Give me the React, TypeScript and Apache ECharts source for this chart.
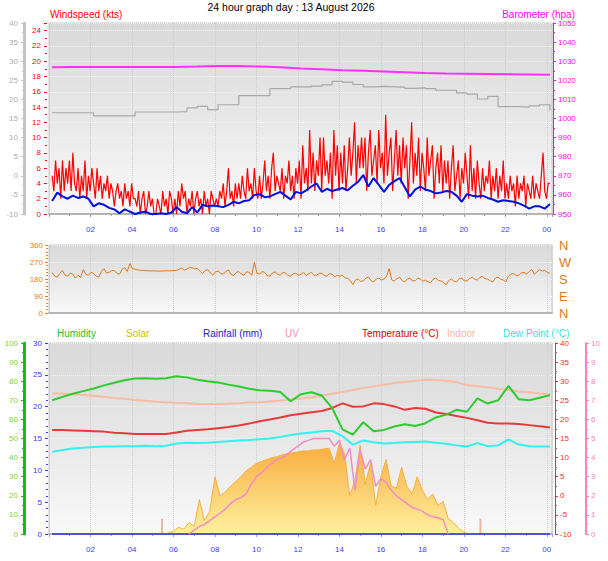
import React, { useEffect, useRef } from "react";
import * as echarts from "echarts";

const FONT = "Liberation Sans, Arial, sans-serif";

// times are hours after midnight of the first day; the axis runs 00:00 -> 00:15 next day
const TIME_MAX = 24.25;

// ---- top panel: wind (kts), barometer (hpa), grey trace (left grey scale)
const gustStart = 0.15;
const gustStep = 1 / 12;
const windGust = [
  5, 3, 7, 4, 6, 2, 7, 3, 6, 4, 7, 3,
  8, 4, 3, 6, 2, 5, 3, 7, 2, 5, 3, 6,
  4, 2, 6, 3, 5, 2, 4, 3, 5, 2, 4, 3,
  1, 3, 4, 2, 3, 1, 4, 2, 3, 1, 4, 2,
  2, 1, 3, 0, 2, 3, 0, 1, 3, 1, 2, 0,
  0, 2, 1, 0, 3, 1, 2, 0, 3, 2, 0, 2,
  0, 3, 1, 4, 2, 3, 0, 2, 1, 3, 0, 2,
  3, 1, 2, 0, 3, 1, 2, 0, 3, 2, 1, 2,
  1, 3, 2, 4, 1, 3, 6, 2, 3, 1, 4, 2,
  4, 2, 5, 3, 2, 6, 3, 4, 2, 6, 3, 2,
  5, 2, 4, 7, 3, 5, 2, 6, 8, 3, 5, 4,
  3, 6, 2, 5, 4, 7, 3, 5, 2, 6, 4, 7,
  2, 9, 4, 6, 3, 11, 4, 8, 3, 7, 5, 10,
  3, 10, 5, 7, 4, 8, 2, 11, 5, 9, 3, 8,
  4, 9, 3, 6, 10, 5, 8, 12, 4, 9, 6, 10,
  6, 10, 3, 8, 11, 5, 7, 9, 4, 11, 6, 8,
  4, 13, 5, 8, 10, 3, 7, 11, 5, 9, 4, 10,
  6, 9, 2, 7, 12, 4, 8, 5, 10, 3, 8, 6,
  3, 10, 5, 7, 9, 2, 6, 8, 4, 9, 3, 7,
  4, 7, 2, 6, 9, 3, 5, 7, 2, 6, 4, 8,
  5, 2, 9, 3, 6, 2, 7, 4, 2, 6, 3, 5,
  4, 7, 2, 5, 3, 6, 2, 5, 3, 7, 2, 4,
  2, 5, 3, 4, 1, 5, 2, 4, 3, 5, 1, 4,
  3, 2, 5, 2, 4, 3, 2, 5, 8, 3, 2, 4,
  4,
];

const avgStart = 0.15;
const avgStep = 0.25;
const windAvg = [
  1.7, 2.8, 2.3, 2.0, 2.4, 2.1, 2.3, 2.0,
  1.0, 1.4, 1.2, 0.8, 0.6, 0.1, 0.6, 0.3,
  0, 0.2, 0.3, 0, 0, 0.1, 0, 0.2,
  0.9, 0.3, 0.1, 0.9, 0.2, 1.2, 1.0, 1.1,
  1.0, 0.9, 1.2, 1.6, 1.4, 1.7, 1.8, 2.5,
  2.6, 2.2, 2.3, 2.6, 2.9, 2.4, 1.9, 2.9,
  2.7, 3.1, 3.6, 4.0, 2.9, 3.3, 3.0, 3.2,
  3.4, 3.1, 3.7, 4.2, 5.1, 3.6, 4.7, 3.8,
  2.9, 3.8, 4.3, 4.7, 3.5, 2.3, 3.2, 3.6,
  3.2, 3.0, 2.7, 2.8, 3.0, 2.9, 2.4, 1.6,
  2.6, 2.4, 2.3, 2.4, 2.1, 1.9, 1.6, 1.8,
  1.7, 1.6, 1.4, 1.1, 0.7, 1.0, 1.0, 0.7,
  1.3,
];

const baroStart = 0.15;
const baroStep = 1;
const barometer = [
  1026.8, 1027.0, 1027.0, 1027.0, 1027.0, 1027.0, 1027.0, 1027.2, 1027.5, 1027.5,
  1027.2, 1026.8, 1026.2, 1025.8, 1025.3, 1025.0, 1024.6, 1024.2, 1023.8, 1023.5,
  1023.4, 1023.3, 1023.2, 1023.1, 1022.9,
];

const greyStart = 0.15;
const greyStep = 0.5;
const greyTrace = [
  16.5, 16.5, 16.5, 16.5, 15.7, 15.7, 15.7, 15.7, 16.7, 16.7,
  16.7, 16.7, 16.8, 17.8, 18.2, 17.3, 18.6, 18.6, 21, 21,
  21, 22.8, 22.8, 23.3, 23.3, 23.5, 23.8, 24.7, 24.5, 23.9,
  23.3, 23.4, 23.3, 23.2, 22.9, 23.0, 22.8, 22.4, 22.4, 21.7,
  21.4, 20.1, 20.8, 18.1, 18.1, 18.0, 18.3, 18.6, 17.0,
];

// ---- middle panel: wind direction (deg)
const dirStart = 0.15;
const dirStep = 0.125;
const windDir = [
  215, 195, 190, 210, 225, 200, 195, 212,
  205, 185, 200, 188, 230, 205, 200, 215,
  210, 195, 190, 220, 235, 212, 215, 225,
  225, 210, 205, 232, 240, 220, 262, 235,
  232, 228, 226, 225, 224, 224, 223, 223,
  222, 222, 222, 223, 223, 223, 224, 225,
  226, 232, 238, 228, 232, 242, 240, 234,
  236, 222, 208, 225, 230, 212, 200, 218,
  222, 210, 205, 220, 228, 205, 198, 215,
  220, 205, 200, 218, 215, 200, 270, 210,
  205, 220, 215, 198, 195, 212, 218, 205,
  200, 215, 212, 198, 196, 208, 210, 200,
  205, 215, 198, 208, 215, 200, 200, 210,
  210, 198, 195, 208, 205, 192, 200, 195,
  200, 185, 185, 170, 150, 175, 180, 168,
  170, 185, 190, 172, 165, 180, 185, 175,
  180, 195, 235, 175, 170, 182, 190, 172,
  165, 180, 185, 170, 170, 185, 180, 168,
  175, 165, 160, 180, 185, 172, 170, 160,
  150, 172, 180, 168, 165, 182, 185, 170,
  170, 182, 190, 178, 175, 188, 195, 180,
  180, 170, 165, 185, 190, 178, 175, 165,
  195, 205, 210, 198, 200, 212, 215, 205,
  220, 230, 205, 218, 230, 222, 225, 215,
  210,
];
const compassLabels = ["N", "E", "S", "W", "N"];

// ---- bottom panel
const climStart = 0.15;
const climStep = 0.5;
const humidity = [
  70, 71.8, 73.4, 74.8, 76.2, 77.8, 79.2, 80.5, 81.4, 81.5,
  81.3, 81.5, 82.6, 82.0, 80.8, 80.0, 79.3, 78.2, 77.2, 76.0,
  75.3, 75.0, 74.4, 69.5, 73.2, 74.2, 72.5, 66.0, 54.8, 52.0,
  58.5, 53.8, 54.5, 56.3, 57.5, 56.5, 58.0, 61.0, 62.5, 65.0,
  64.0, 71.0, 68.3, 70.0, 77.5, 70.5, 70.0, 71.3, 72.7,
];
const temperature = [
  17.2, 17.2, 17.1, 17.0, 16.9, 16.8, 16.5, 16.4, 16.2, 16.2,
  16.2, 16.2, 16.6, 17.0, 17.2, 17.4, 17.7, 18.0, 18.4, 18.9,
  19.5, 20.0, 20.5, 21.1, 21.5, 21.9, 22.2, 23.0, 24.2, 23.3,
  23.4, 24.2, 24.0, 23.4, 22.5, 23.0, 22.8, 21.8, 21.4, 20.9,
  20.4, 19.8, 19.1, 18.9, 18.9, 18.8, 18.5, 18.2, 17.9,
];
const indoor = [
  26.8, 26.7, 26.6, 26.4, 26.2, 25.9, 25.6, 25.4, 25.1, 24.9,
  24.6, 24.5, 24.3, 24.2, 24.0, 24.0, 24.0, 24.1, 24.2, 24.4,
  24.5, 24.7, 24.9, 25.2, 25.5, 25.8, 26.2, 26.7, 27.2, 27.7,
  28.2, 28.6, 29.1, 29.5, 29.8, 30.1, 30.4, 30.3, 30.1, 29.7,
  29.0, 28.7, 28.4, 28.0, 27.7, 27.3, 27.1, 26.8, 26.6,
];
const dewPoint = [
  11.5, 12.0, 12.4, 12.6, 12.8, 12.9, 12.9, 13.0, 13.0, 13.1,
  13.0, 13.1, 13.7, 13.9, 13.8, 13.9, 14.1, 14.3, 14.5, 14.6,
  14.8, 15.0, 15.4, 15.9, 16.3, 16.6, 16.9, 17.0, 15.6, 13.4,
  14.5, 14.0, 13.7, 13.8, 14.0, 14.1, 14.2, 13.9, 13.6, 13.2,
  12.9, 13.8, 13.0, 13.2, 14.8, 13.4, 13.0, 12.9, 12.9,
];

const rainStart = 0.15;
const rainStep = 1;
const rainfall = [0, 0, 0, 0, 0, 0, 0, 0, 0, 0, 0, 0, 0, 0, 0, 0, 0, 0, 0, 0, 0, 0, 0, 0, 0];

const solarStart = 5.5;
const solarStep = 0.25;
const solar = [
  0, 5, 15, 35, 25, 60, 40, 180, 70, 120,
  300, 200, 220, 250, 275, 300, 330, 350, 370, 380,
  390, 400, 405, 415, 420, 425, 430, 435, 435, 440,
  440, 445, 450, 370, 475, 420, 200, 280, 465, 260,
  370, 150, 300, 390, 250, 240, 350, 250, 210, 300,
  230, 180, 210, 150, 170, 80, 60, 30, 10, 0,
];
const solarMarkTimes = [5.45, 20.8];
const solarMarkValues = [80, 80];

const uvStart = 6.75;
const uvStep = 0.25;
const uvIndex = [
  0, 0.2, 0.4, 0.5, 0.7, 0.9, 1.1, 1.3, 1.6, 1.8,
  1.9, 2.1, 2.6, 3.0, 3.2, 3.5, 3.7, 3.9, 4.0, 4.2,
  4.4, 4.6, 4.8, 4.9, 5.0, 5.0, 5.0, 5.0, 4.6, 4.9,
  3.9, 4.5, 2.3, 4.4, 3.4, 3.9, 2.5, 2.9, 2.7, 2.3,
  2.0, 1.8, 1.6, 1.4, 1.3, 1.2, 1.0, 0.9, 0.85, 0.75,
  0,
];

const pairs = (start: number, step: number, vals: number[]) =>
  vals.map((v, i) => [start + i * step, v]);

const panelBg = () =>
  new echarts.graphic.LinearGradient(0, 0, 0, 1, [
    { offset: 0, color: "#d9d9d9" },
    { offset: 0.45, color: "#e6e6e6" },
    { offset: 1, color: "#f9f9f9" },
  ]);

const hourLabel = (v: number) =>
  Number.isInteger(v) && v > 0 ? String(v % 24).padStart(2, "0") : "";

const timeAxis = (gridIndex: number, labels: boolean) => ({
  type: "value",
  gridIndex,
  min: 0,
  max: TIME_MAX,
  interval: 2,
  axisLine: { show: true, onZero: false, lineStyle: { color: "#b4b4b4", width: 2 } },
  axisTick: { show: labels, length: 3, lineStyle: { color: "#a0a0a0" } },
  minorTick: { show: labels, splitNumber: 2, length: 2, lineStyle: { color: "#a0a0a0" } },
  axisLabel: {
    show: labels,
    color: "#3c3cff",
    fontSize: 8,
    fontFamily: FONT,
    margin: 11,
    formatter: hourLabel,
  },
  splitLine: { show: true, lineStyle: { color: "#cccccc", type: "dotted" } },
});

const yAxis = (o: any) => {
  const c = o.color;
  return {
    type: "value",
    gridIndex: o.grid,
    position: o.pos,
    offset: o.offset || 0,
    min: o.min,
    max: o.max,
    interval: o.interval,
    axisLine: {
      show: !!o.line,
      onZero: false,
      lineStyle: { color: o.lineColor || c, width: o.line || 1 },
    },
    axisTick: { show: true, length: 3, lineStyle: { color: o.lineColor || c } },
    minorTick: { show: true, splitNumber: o.minor || 2, length: 2, lineStyle: { color: o.lineColor || c } },
    axisLabel: {
      color: c,
      fontSize: o.fontSize || 8,
      fontFamily: FONT,
      margin: o.margin || 5,
      formatter: o.formatter || ((v: number) => String(v)),
    },
    splitLine: o.split
      ? { show: true, lineStyle: { color: "#f4f4f4", type: "dotted" } }
      : { show: false },
  };
};

const line = (x: number, y: number, data: any, color: string, width: number, extra: any = {}) => ({
  type: "line",
  xAxisIndex: x,
  yAxisIndex: y,
  data,
  symbol: "none",
  silent: true,
  lineStyle: { color, width },
  ...extra,
});

const txt = (x: number, y: number, text: string, fill: string, size = 10, align = "left") => ({
  type: "text",
  x,
  y,
  silent: true,
  style: { text, fill, fontSize: size, fontFamily: FONT, align, verticalAlign: "middle" },
});

const App = () => {
  const ref = useRef<HTMLDivElement>(null);

  useEffect(() => {
    const chart = echarts.init(ref.current, null, { renderer: "svg" });
    const grids = [
      { left: 49, right: 56, top: 23, height: 191 },
      { left: 49, right: 56, top: 245, height: 68 },
      { left: 49, right: 56, top: 343, height: 191 },
    ].map((g) => ({
      ...g,
      show: true,
      backgroundColor: panelBg(),
      borderColor: "#c4c4c4",
      borderWidth: 1,
    }));

    const option = {
      animation: false,
      backgroundColor: "#ffffff",
      grid: grids,
      xAxis: [timeAxis(0, true), timeAxis(1, false), timeAxis(2, true)],
      yAxis: [
        // 0 wind speed
        yAxis({ grid: 0, pos: "left", offset: 2, min: 0, max: 25, interval: 2, color: "#ff0000", margin: 6, split: true,
          formatter: (v: number) => (v % 2 === 0 ? String(v) : "") }),
        // 1 grey scale
        yAxis({ grid: 0, pos: "left", offset: 25, min: -10, max: 40, interval: 5, color: "#a8aeb6", lineColor: "#c4c4c4", line: 3, margin: 6 }),
        // 2 barometer
        yAxis({ grid: 0, pos: "right", offset: 1, min: 950, max: 1050, interval: 10, color: "#ff00ff", line: 1, margin: 5 }),
        // 3 direction
        yAxis({ grid: 1, pos: "left", offset: 1, min: 0, max: 360, interval: 90, color: "#e8801c", margin: 5, minor: 5, split: true }),
        // 4 compass
        {
          type: "value", gridIndex: 1, position: "right", min: 0, max: 360, interval: 90,
          axisLine: { show: false }, axisTick: { show: false },
          axisLabel: { color: "#e07a12", fontSize: 13, fontFamily: FONT, margin: 7,
            formatter: (v: number) => compassLabels[v / 90] },
          splitLine: { show: false },
        },
        // 5 rainfall
        yAxis({ grid: 2, pos: "left", offset: 1, min: 0, max: 30, interval: 5, color: "#3434ff", margin: 6, minor: 5, split: true }),
        // 6 humidity
        yAxis({ grid: 2, pos: "left", offset: 25, min: 0, max: 100, interval: 10, color: "#86d030", lineColor: "#10c010", line: 3, margin: 6 }),
        // 7 temperature
        yAxis({ grid: 2, pos: "right", offset: 3, min: -10, max: 40, interval: 5, color: "#ff2a2a", line: 1, margin: 5 }),
        // 8 uv
        yAxis({ grid: 2, pos: "right", offset: 34, min: 0, max: 10, interval: 1, color: "#ff80c0", line: 2, margin: 5 }),
        // 9 solar (hidden)
        { type: "value", gridIndex: 2, min: 0, max: 1000, show: false, splitLine: { show: false } },
      ],
      series: [
        line(0, 1, pairs(greyStart, greyStep, greyTrace), "#a8a8a8", 1.2, { step: "end" }),
        line(0, 2, pairs(baroStart, baroStep, barometer), "#ff30ff", 2),
        line(0, 0, pairs(gustStart, gustStep, windGust), "#ff0000", 1.2),
        line(0, 0, pairs(avgStart, avgStep, windAvg), "#0010e0", 2),

        line(1, 3, pairs(dirStart, dirStep, windDir), "#e07a1a", 1),

        line(2, 9, pairs(solarStart, solarStep, solar), "#f6b040", 1, {
          areaStyle: {
            opacity: 1,
            color: new echarts.graphic.LinearGradient(0, 0, 0, 1, [
              { offset: 0, color: "#f7ac3c" },
              { offset: 1, color: "#fff0a0" },
            ]),
          },
        }),
        {
          type: "bar",
          xAxisIndex: 2,
          yAxisIndex: 9,
          barWidth: 2,
          silent: true,
          itemStyle: { color: "#f2b4a0" },
          data: solarMarkTimes.map((t, i) => [t, solarMarkValues[i]]),
        },
        line(2, 5, pairs(rainStart, rainStep, rainfall), "#5050d8", 2),
        line(2, 7, pairs(climStart, climStep, indoor), "#f6bca4", 2),
        line(2, 7, pairs(climStart, climStep, temperature), "#e63a3a", 2),
        line(2, 7, pairs(climStart, climStep, dewPoint), "#34f0f0", 2),
        line(2, 6, pairs(climStart, climStep, humidity), "#2ccc2c", 2),
        line(2, 8, pairs(uvStart, uvStep, uvIndex), "#f28cc4", 1.5),
      ],
      graphic: [
        txt(291, 7, "24 hour graph day : 13 August 2026", "#000000", 10.5, "center"),
        txt(50, 14, "Windspeed (kts)", "#ff0000", 10),
        txt(575, 14, "Barometer (hpa)", "#ff00ff", 10, "right"),
        txt(57, 333, "Humidity", "#1cc41c", 10),
        txt(126, 333, "Solar", "#c8c000", 10),
        txt(203, 333, "Rainfall (mm)", "#2020e0", 10),
        txt(285, 333, "UV", "#ff88c8", 10),
        txt(362, 333, "Temperature (°C)", "#e00000", 10),
        txt(447, 333, "Indoor", "#f2b8a0", 10),
        txt(503, 333, "Dew Point (°C)", "#20e8e8", 10),
      ],
    };

    chart.setOption(option as any);
    return () => chart.dispose();
  }, []);

  return (
    <div
      ref={ref}
      style={{ position: "fixed", left: 0, top: 0, width: 608, height: 561, background: "#fff" }}
    />
  );
};

export default App;
